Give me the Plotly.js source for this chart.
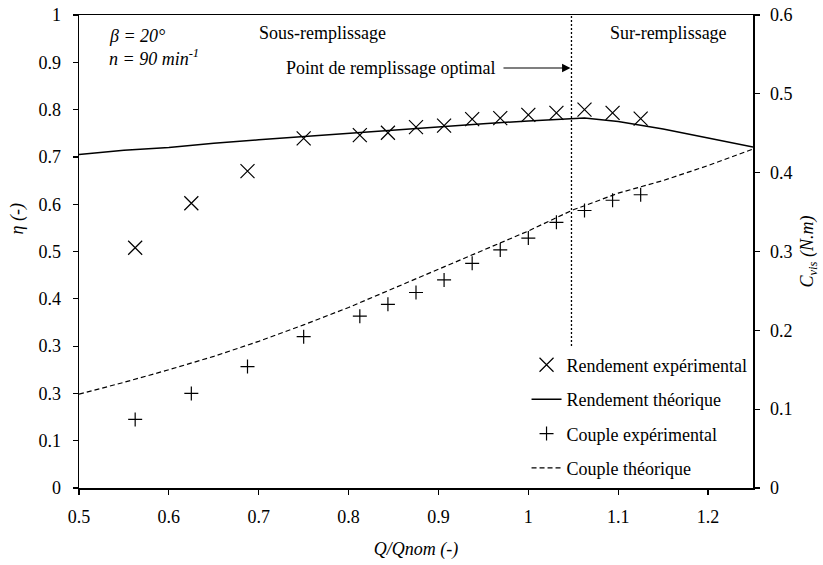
<!DOCTYPE html>
<html>
<head>
<meta charset="utf-8">
<script src="https://cdn.plot.ly/plotly-3.0.1.min.js"></script>
<style>html,body{margin:0;padding:0;background:#fff;}#chart{width:823px;height:565px;}</style>
</head>
<body>
<div id="chart"></div>
<script>
// Experimental points (Q/Qnom)
const qExp = [0.5625, 0.625, 0.6875, 0.75, 0.8125, 0.84375, 0.875, 0.90625, 0.9375, 0.96875, 1.0, 1.03125, 1.0625, 1.09375, 1.125];
const etaExp = [0.508, 0.602, 0.670, 0.739, 0.746, 0.751, 0.763, 0.766, 0.780, 0.782, 0.789, 0.793, 0.800, 0.793, 0.781];
const torqueExp = [0.087, 0.120, 0.154, 0.192, 0.218, 0.233, 0.248, 0.264, 0.285, 0.302, 0.317, 0.337, 0.352, 0.365, 0.372];

// Theoretical curves
const qTheo = [0.5, 0.55, 0.6, 0.625, 0.65, 0.7, 0.75, 0.8, 0.85, 0.9, 0.95, 1.0, 1.05, 1.0625, 1.1, 1.15, 1.2, 1.25];
const etaTheo = [0.705, 0.714, 0.720, 0.725, 0.729, 0.736, 0.743, 0.750, 0.756, 0.763, 0.770, 0.776, 0.781, 0.782, 0.775, 0.759, 0.740, 0.721];
const torqueTheo = [0.119, 0.134, 0.150, 0.158, 0.167, 0.186, 0.207, 0.229, 0.253, 0.278, 0.301, 0.326, 0.353, 0.358, 0.374, 0.390, 0.409, 0.430];

// Optimal filling point
const optimalQ = 1.048;

// Tick labels
const etaTickVals = [0, 0.1, 0.2, 0.3, 0.4, 0.5, 0.6, 0.7, 0.8, 0.9, 1];
const etaTickText = ["0", "0.1", "0.3", "0.3", "0.4", "0.5", "0.6", "0.7", "0.8", "0.9", "1"];
const torqueTickVals = [0, 0.1, 0.2, 0.3, 0.4, 0.5, 0.6];
const qTickVals = [0.5, 0.6, 0.7, 0.8, 0.9, 1, 1.1, 1.2];

const FONT = "'Liberation Serif', 'Times New Roman', serif";
const FS = 18;

const traces = [
  {x: qExp, y: etaExp, name: "Rendement expérimental", type: "scatter", mode: "markers",
   legendgroup: "a",
   marker: {symbol: "x-thin-open", size: 14, color: "#000", line: {color: "#000", width: 1.2}}},
  {x: qTheo, y: etaTheo, name: "Rendement théorique", type: "scatter", mode: "lines",
   legendgroup: "b",
   line: {color: "#000", width: 1.5}},
  {x: qExp, y: torqueExp, name: "Couple expérimental", type: "scatter", mode: "markers", yaxis: "y2",
   legendgroup: "c",
   marker: {symbol: "cross-thin-open", size: 10, color: "#000", line: {color: "#000", width: 1.2}}},
  {x: qTheo, y: torqueTheo, name: "Couple théorique", type: "scatter", mode: "lines", yaxis: "y2",
   legendgroup: "d",
   line: {color: "#000", width: 1.2, dash: "5px,3px"}}
];

const axisCommon = {
  showgrid: false, zeroline: false, showline: true, linecolor: "#000", linewidth: 1.5,
  ticks: "outside", ticklen: 5, tickwidth: 1.2, tickcolor: "#000",
  tickfont: {family: FONT, size: FS, color: "#000"}
};

const layout = {
  width: 823, height: 565,
  margin: {l: 79, r: 70, t: 15, b: 77, pad: 0},
  paper_bgcolor: "#fff", plot_bgcolor: "#fff",
  font: {family: FONT, size: FS, color: "#000"},
  showlegend: true,
  legend: {x: 0.664, xanchor: "left", y: 0.299, yanchor: "top",
           bgcolor: "rgba(0,0,0,0)", borderwidth: 0,
           font: {family: FONT, size: FS, color: "#000"},
           tracegroupgap: 8, traceorder: "grouped"},
  xaxis: Object.assign({}, axisCommon, {
    range: [0.5, 1.25], tickvals: qTickVals, mirror: true,
    ticklabelstandoff: 7,
    title: {text: "<i>Q/Qnom (-)</i>", font: {family: FONT, size: FS, color: "#000"}, standoff: 16}
  }),
  yaxis: Object.assign({}, axisCommon, {
    range: [0, 1], tickvals: etaTickVals, ticktext: etaTickText,
    ticklabelstandoff: 8
  }),
  yaxis2: Object.assign({}, axisCommon, {
    range: [0, 0.6], tickvals: torqueTickVals, overlaying: "y", side: "right",
    ticklabelstandoff: 7,
    title: {text: "<i>C<sub>vis</sub> (N.m)</i>", font: {family: FONT, size: FS, color: "#000"}, standoff: 9}
  }),
  shapes: [
    {type: "line", xref: "x", yref: "y", x0: optimalQ, x1: optimalQ, y0: 0.3, y1: 1,
     line: {color: "#000", width: 1.3, dash: "2px,2px"}}
  ],
  annotations: [
    {xref: "paper", yref: "paper", x: -0.092, y: 0.57, text: "<i>η (-)</i>", textangle: -90,
     showarrow: false, xanchor: "center", yanchor: "middle", font: {family: FONT, size: FS}},
    {xref: "paper", yref: "paper", x: 0.0415, y: 0.956, text: "<i>β = 20°</i>",
     showarrow: false, xanchor: "left", yanchor: "middle", font: {family: FONT, size: FS}},
    {xref: "paper", yref: "paper", x: 0.0415, y: 0.911, text: "<i>n = 90 min<sup>-1</sup></i>",
     showarrow: false, xanchor: "left", yanchor: "middle", font: {family: FONT, size: FS}},
    {xref: "paper", yref: "paper", x: 0.362, y: 0.962, text: "Sous-remplissage",
     showarrow: false, xanchor: "center", yanchor: "middle", font: {family: FONT, size: FS}},
    {xref: "paper", yref: "paper", x: 0.874, y: 0.962, text: "Sur-remplissage",
     showarrow: false, xanchor: "center", yanchor: "middle", font: {family: FONT, size: FS}},
    {xref: "paper", yref: "paper", x: 0.620, y: 0.888, text: "Point de remplissage optimal",
     showarrow: false, xanchor: "right", yanchor: "middle", font: {family: FONT, size: FS}},
    {xref: "x", yref: "y", x: optimalQ, y: 0.888, text: " ", showarrow: true,
     ax: -72, ay: 0, axref: "pixel", ayref: "pixel",
     arrowhead: 2, arrowsize: 1.4, arrowwidth: 1.2, arrowcolor: "#000", standoff: 1}
  ]
};

Plotly.newPlot("chart", traces, layout, {displayModeBar: false, staticPlot: true});
</script>
</body>
</html>
